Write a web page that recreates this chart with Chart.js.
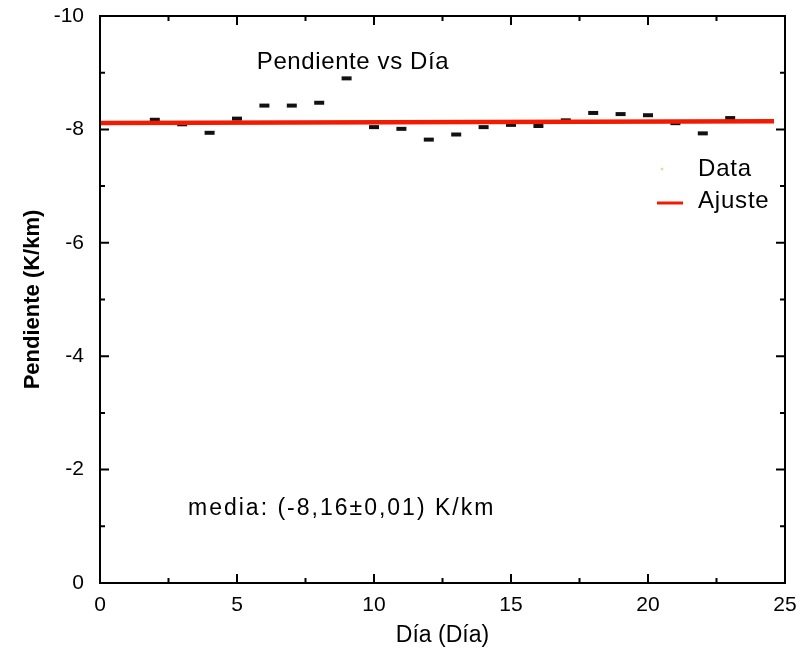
<!DOCTYPE html>
<html>
<head>
<meta charset="utf-8">
<script src="https://cdn.jsdelivr.net/npm/chart.js@4.4.0/dist/chart.umd.min.js"></script>
<style>
  body { margin: 0; background: #fff; }
  #wrap { width: 803px; height: 663px; }
</style>
</head>
<body>
<div id="wrap"><canvas id="slope" width="803" height="663"></canvas></div>
<script>
// daily slope (K/km)
var days = [2, 3, 4, 5, 6, 7, 8, 9, 10, 11, 12, 13, 14, 15, 16, 17, 18, 19, 20, 21, 22, 23];
var slopes = [-8.17, -8.09, -7.94, -8.19, -8.42, -8.42, -8.47, -8.90, -8.04, -8.01, -7.82,
              -7.91, -8.04, -8.08, -8.06, -8.16, -8.29, -8.27, -8.25, -8.11, -7.93, -8.20];

// fitted line end points
var fitX = [0, 24.6];
var fitY = [-8.115, -8.145];

var xTicks = [0, 5, 10, 15, 20, 25];
var yTicks = [-10, -8, -6, -4, -2, 0];

var FONT = "'Liberation Sans', Arial, sans-serif";

var framePlugin = {
    id: 'frame',
    afterDraw: function(chart) {
        var ctx = chart.ctx;
        var a = chart.chartArea;
        var xs = chart.scales.x, ys = chart.scales.y;
        ctx.save();
        ctx.strokeStyle = '#000';
        ctx.lineWidth = 2;
        ctx.strokeRect(a.left, a.top, a.right - a.left, a.bottom - a.top);

        // inward ticks on all four sides
        ctx.beginPath();
        for (var v = 0; v <= 25; v += 2.5) {
            var px = xs.getPixelForValue(v);
            var len = (v % 5 === 0) ? 9 : 5;
            ctx.moveTo(px, a.bottom); ctx.lineTo(px, a.bottom - len);
            ctx.moveTo(px, a.top); ctx.lineTo(px, a.top + len);
        }
        for (var w = -10; w <= 0; w += 1) {
            var py = ys.getPixelForValue(w);
            var l2 = (w % 2 === 0) ? 9 : 5;
            ctx.moveTo(a.left, py); ctx.lineTo(a.left + l2, py);
            ctx.moveTo(a.right, py); ctx.lineTo(a.right - l2, py);
        }
        ctx.stroke();

        // title and note
        ctx.fillStyle = '#000';
        ctx.textBaseline = 'middle';
        ctx.textAlign = 'center';
        ctx.font = '24px ' + FONT;
        ctx.letterSpacing = '0.6px';
        ctx.fillText('Pendiente vs Día', 353, 62);
        ctx.textAlign = 'left';
        ctx.font = '23px ' + FONT;
        ctx.letterSpacing = '2px';
        ctx.fillText('media: (-8,16±0,01) K/km', 188, 509);

        // legend
        ctx.font = '24px ' + FONT;
        ctx.letterSpacing = '0.8px';
        ctx.fillText('Data', 698, 169);
        ctx.fillText('Ajuste', 698, 201);
        ctx.letterSpacing = '0px';
        ctx.fillStyle = '#e6dca0';
        ctx.beginPath();
        ctx.arc(662, 169, 1.5, 0, Math.PI * 2);
        ctx.fill();
        ctx.strokeStyle = '#f21a00';
        ctx.lineWidth = 3;
        ctx.beginPath();
        ctx.moveTo(657, 203); ctx.lineTo(683, 203);
        ctx.stroke();
        ctx.restore();
    }
};

var chart = new Chart(document.getElementById('slope'), {
    type: 'scatter',
    data: {
        datasets: [{
            label: 'Ajuste',
            type: 'line',
            data: fitX.map(function(x, i) { return { x: x, y: fitY[i] }; }),
            borderColor: '#f21a00',
            borderWidth: 4.5,
            pointRadius: 0,
            order: 1
        }, {
            label: 'Data',
            data: days.map(function(d, i) { return { x: d, y: slopes[i] }; }),
            pointStyle: 'line',
            pointRadius: 5,
            borderColor: '#111',
            backgroundColor: '#111',
            borderWidth: 4,
            order: 2
        }]
    },
    options: {
        responsive: false,
        animation: false,
        layout: { padding: { top: 16, right: 18, bottom: 0, left: 0 } },
        plugins: {
            legend: { display: false },
            tooltip: { enabled: false }
        },
        scales: {
            x: {
                type: 'linear',
                min: 0,
                max: 25,
                afterFit: function(s) { s.height = 80; s.paddingLeft = 0; s.paddingRight = 0; },
                afterBuildTicks: function(s) { s.ticks = xTicks.map(function(v) { return { value: v }; }); },
                grid: { display: false, drawTicks: false },
                border: { display: false },
                ticks: { color: '#000', padding: 10, font: { family: FONT, size: 21 } },
                title: {
                    display: true,
                    text: 'Día (Día)',
                    color: '#000',
                    padding: { top: 0, bottom: 14 },
                    font: { family: FONT, size: 23 }
                }
            },
            y: {
                type: 'linear',
                min: -10,
                max: 0,
                reverse: true,
                afterFit: function(s) { s.width = 100; s.paddingTop = 0; s.paddingBottom = 0; },
                afterBuildTicks: function(s) { s.ticks = yTicks.map(function(v) { return { value: v }; }); },
                grid: { display: false, drawTicks: false },
                border: { display: false },
                ticks: { color: '#000', padding: 16, font: { family: FONT, size: 21 } },
                title: {
                    display: true,
                    text: 'Pendiente (K/km)',
                    color: '#000',
                    padding: { top: 20, bottom: 0 },
                    font: { family: FONT, size: 22, weight: 'bold' }
                }
            }
        }
    },
    plugins: [framePlugin]
});
</script>
</body>
</html>
